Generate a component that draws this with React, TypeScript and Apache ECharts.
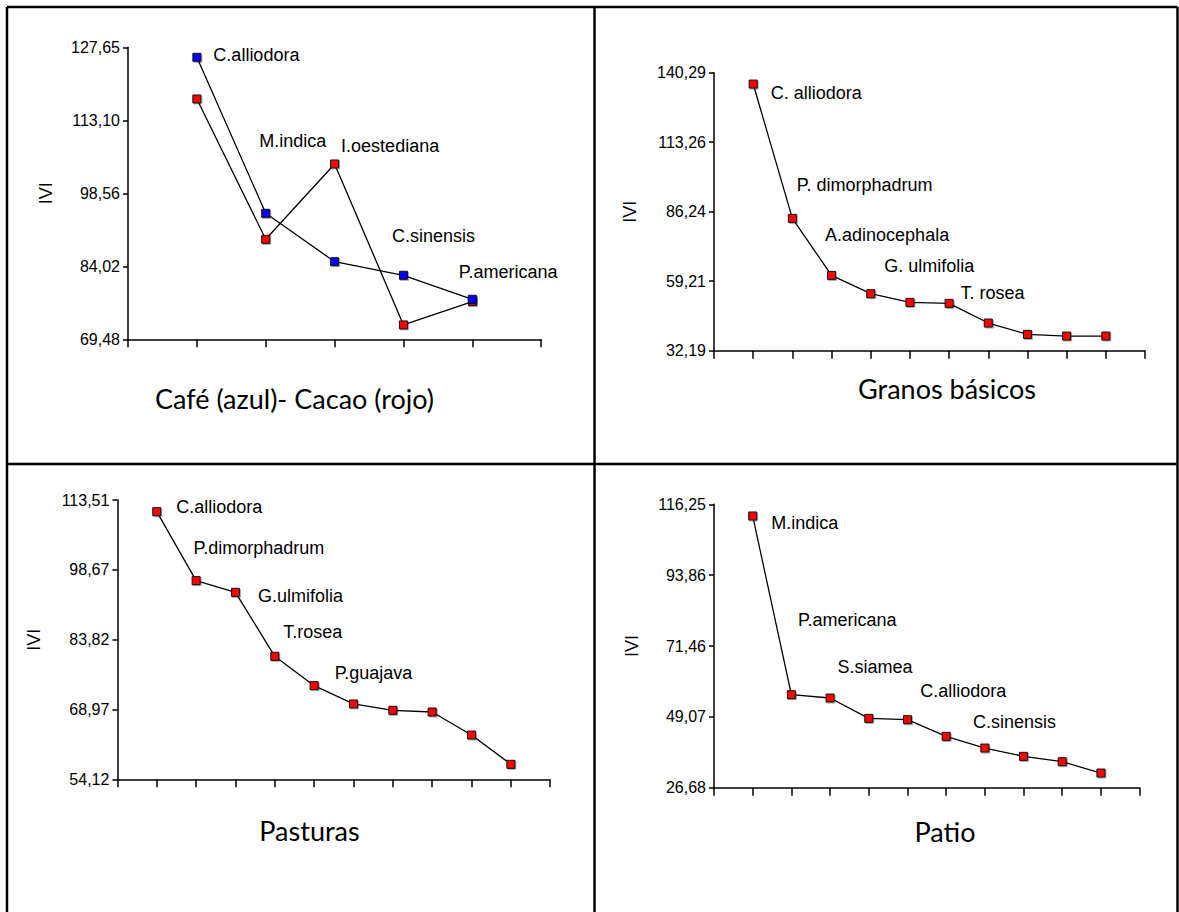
import React, { useEffect, useRef } from "react";
import * as echarts from "echarts";

// ---------- Data ----------
const cafeCacaoSpecies = ["C.alliodora", "M.indica", "I.oestediana", "C.sinensis", "P.americana"];
const cafeIVI = [125.66, 94.58, 84.94, 82.23, 77.45];
const cacaoIVI = [117.36, 89.4, 104.41, 72.34, 76.99];
const cafeCacaoTicks = [69.48, 84.02, 98.56, 113.1, 127.65];

const granosSpecies = ["C. alliodora", "P. dimorphadrum", "A.adinocephala", "G. ulmifolia", "T. rosea", "", "", "", "", ""];
const granosIVI = [135.88, 83.65, 61.48, 54.35, 50.98, 50.59, 42.95, 38.54, 37.89, 37.89];
const granosTicks = [32.19, 59.21, 86.24, 113.26, 140.29];

const pasturasSpecies = ["C.alliodora", "P.dimorphadrum", "G.ulmifolia", "T.rosea", "P.guajava", "", "", "", "", ""];
const pasturasIVI = [111.03, 96.36, 93.88, 80.27, 74.03, 70.14, 68.79, 68.43, 63.54, 57.31];
const pasturasTicks = [54.12, 68.97, 83.82, 98.67, 113.51];

const patioSpecies = ["M.indica", "P.americana", "S.siamea", "C.alliodora", "C.sinensis", "", "", "", "", ""];
const patioIVI = [112.56, 56.08, 55.03, 48.6, 48.18, 42.91, 39.22, 36.59, 34.9, 31.32];
const patioTicks = [26.68, 49.07, 71.46, 93.86, 116.25];

const panelTitles = ["Café (azul)- Cacao (rojo)", "Granos básicos", "Pasturas", "Patio"];
const yName = "IVI";

// ---------- Layout / style (not data) ----------
const labelOffsets = [
  [[16, -2], [-7, -72], [6, -116], [-12, -39], [-14, -27]],
  [[17, 9], [4, -33], [-7, -40], [13, -28], [50, -9]],
  [[19, -5], [-3, -33], [22, 4], [8, -24], [20, -13]],
  [[18, 7], [6, -75], [7, -31], [51, -27], [65, 2]],
];
const grids = [
  { left: 128, top: 47.3, width: 413.2, height: 292 },
  { left: 714, top: 72.7, width: 431, height: 278 },
  { left: 117.4, top: 500, width: 432.8, height: 279.3 },
  { left: 714, top: 504.3, width: 425.6, height: 283.4 },
];
const titlePos = [
  [294.5, 398],
  [947, 388.5],
  [309.5, 830],
  [945, 831.5],
];
const nameGaps = [73, 75, 74, 73];

const SANS = "'Liberation Sans', Arial, sans-serif";
const fmt = (v: number) => v.toFixed(2).replace(".", ",");

function makeAxes(i: number, count: number, ticks: number[]) {
  const xAxis = {
    type: "value",
    gridIndex: i,
    min: 0,
    max: count + 1,
    interval: 1,
    axisLine: { show: true, onZero: false, lineStyle: { color: "#000", width: 1.5 } },
    axisTick: { show: true, inside: false, length: 8, lineStyle: { color: "#000", width: 1.5 } },
    axisLabel: { show: false },
    splitLine: { show: false },
  };
  const yAxis = {
    type: "value",
    gridIndex: i,
    min: ticks[0],
    max: ticks[ticks.length - 1],
    name: yName,
    nameLocation: "middle",
    nameGap: nameGaps[i],
    nameRotate: 90,
    nameTextStyle: { fontFamily: SANS, fontSize: 18, color: "#000" },
    axisLine: { show: true, lineStyle: { color: "#000", width: 1.5 } },
    axisTick: { show: true, length: 5, customValues: ticks, lineStyle: { color: "#000", width: 1.5 } },
    axisLabel: {
      show: true,
      customValues: ticks,
      formatter: (v: number) => fmt(v),
      fontFamily: SANS,
      fontSize: 16,
      color: "#000",
      margin: 8,
    },
    splitLine: { show: false },
  };
  return { xAxis, yAxis };
}

function makeSeries(
  i: number,
  values: number[],
  color: string,
  names: string[] | null,
  offsets: number[][] | null
) {
  return {
    type: "line",
    xAxisIndex: i,
    yAxisIndex: i,
    symbol: "rect",
    symbolSize: 8,
    lineStyle: { color: "#000", width: 1.3 },
    itemStyle: {
      color,
      borderColor: "#111",
      borderWidth: 1,
      shadowColor: "rgba(0,0,0,0.35)",
      shadowOffsetX: 1,
      shadowOffsetY: 1,
      shadowBlur: 1,
    },
    data: values.map((v, k) => {
      const off = offsets && offsets[k] ? offsets[k] : [0, 0];
      return {
        value: [k + 1, v],
        label: {
          show: !!(names && names[k]),
          offset: [off[0] - 4, off[1]],
        },
      };
    }),
    label: {
      show: !!names,
      position: "right",
      distance: 0,
      align: "left",
      verticalAlign: "middle",
      fontFamily: SANS,
      fontSize: 18,
      color: "#000",
      formatter: (p: any) => (names ? names[p.dataIndex] : ""),
    },
    z: 3,
  };
}

export default function App() {
  const ref = useRef<HTMLDivElement>(null);

  useEffect(() => {
    if (!ref.current) return;
    const chart = echarts.init(ref.current, null, { renderer: "svg" });

    const a0 = makeAxes(0, cafeIVI.length, cafeCacaoTicks);
    const a1 = makeAxes(1, granosIVI.length, granosTicks);
    const a2 = makeAxes(2, pasturasIVI.length, pasturasTicks);
    const a3 = makeAxes(3, patioIVI.length, patioTicks);

    const L = 7, R = 1177.5, T = 7, MX = 594.5, MY = 464, B = 920;
    const borderStyle = { stroke: "#000", lineWidth: 2.5 };
    const borders = [
      [L, T, R, T],
      [L, T, L, B],
      [R, T, R, B],
      [MX, T, MX, B],
      [L, MY, R, MY],
    ].map((s) => ({
      type: "line",
      shape: { x1: s[0], y1: s[1], x2: s[2], y2: s[3] },
      style: borderStyle,
      silent: true,
    }));

    const titles = panelTitles.map((t, k) => ({
      type: "text",
      x: titlePos[k][0],
      y: titlePos[k][1],
      style: {
        text: t,
        fontFamily: "Lato, 'Open Sans', sans-serif",
        fontSize: 27,
        fill: "#000",
        align: "center",
        verticalAlign: "middle",
      },
      silent: true,
    }));

    chart.setOption({
      animation: false,
      backgroundColor: "#fff",
      grid: grids.map((g) => ({ ...g, containLabel: false })),
      xAxis: [a0.xAxis, a1.xAxis, a2.xAxis, a3.xAxis],
      yAxis: [a0.yAxis, a1.yAxis, a2.yAxis, a3.yAxis],
      series: [
        makeSeries(0, cacaoIVI, "#ff0000", null, null),
        makeSeries(0, cafeIVI, "#0000ff", cafeCacaoSpecies, labelOffsets[0]),
        makeSeries(1, granosIVI, "#ff0000", granosSpecies, labelOffsets[1]),
        makeSeries(2, pasturasIVI, "#ff0000", pasturasSpecies, labelOffsets[2]),
        makeSeries(3, patioIVI, "#ff0000", patioSpecies, labelOffsets[3]),
      ],
      graphic: [...borders, ...titles],
    });

    return () => chart.dispose();
  }, []);

  return (
    <div
      ref={ref}
      style={{ position: "fixed", left: 0, top: 0, width: 1179, height: 912, background: "#fff" }}
    />
  );
}
